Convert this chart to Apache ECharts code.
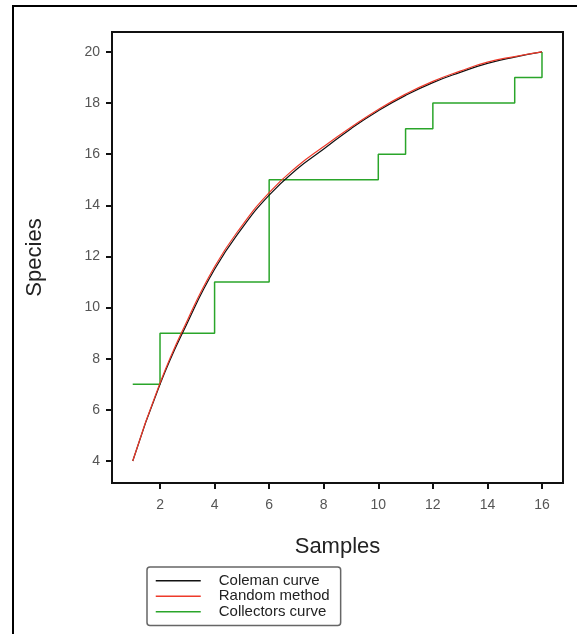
<!DOCTYPE html>
<html>
<head>
<meta charset="utf-8">
<script src="https://cdn.jsdelivr.net/npm/echarts@6/dist/echarts.min.js"></script>
<style>html,body{margin:0;padding:0;background:#fff}#c{width:577px;height:634px}</style>
</head>
<body>
<div id="c"></div>
<script>
var samples = [1,2,3,4,5,6,7,8,9,10,11,12,13,14,15,16];
var coleman = [4,7,9.4,11.5,13.1,14.4,15.4,16.2,17.0,17.7,18.3,18.8,19.2,19.55,19.8,20];
var randomMethod = [4,7.05,9.5,11.6,13.2,14.5,15.5,16.3,17.05,17.75,18.35,18.85,19.25,19.6,19.82,20];
var collectors = [7,9,9,11,11,15,15,15,15,16,17,18,18,18,19,20];
var xTicks = [2,4,6,8,10,12,14,16];
var yTicks = [4,6,8,10,12,14,16,18,20];
var seriesNames = ['Coleman curve','Random method','Collectors curve'];

function pairs(ys){ return samples.map(function(x,i){ return [x, ys[i]]; }); }

var chart = echarts.init(document.getElementById('c'), null, {renderer:'canvas'});
chart.setOption({
  backgroundColor:'#fff',
  animation:false,
  graphic:[{type:'rect', shape:{x:13,y:6,width:620,height:700}, style:{fill:'none', stroke:'#000', lineWidth:2}, silent:true}],
  grid:{left:112, top:32, right:14, bottom:151, show:true, borderColor:'#111', borderWidth:2, backgroundColor:'#fff'},
  xAxis:{
    type:'value', min:0.24, max:16.77,
    name:'Samples', nameLocation:'middle', nameGap:53,
    nameTextStyle:{fontFamily:'Liberation Sans', fontSize:22, color:'#222'},
    axisLine:{show:true, onZero:false, lineStyle:{color:'#111', width:2}},
    axisTick:{show:true, inside:false, length:6, lineStyle:{color:'#111', width:2}, customValues:xTicks},
    axisLabel:{customValues:xTicks, fontFamily:'Liberation Sans', fontSize:14, color:'#555', margin:15},
    splitLine:{show:false}
  },
  yAxis:{
    type:'value', min:3.14, max:20.78,
    name:'Species', nameLocation:'middle', nameGap:66,
    nameTextStyle:{fontFamily:'Liberation Sans', fontSize:22, color:'#222'},
    axisLine:{show:true, onZero:false, lineStyle:{color:'#111', width:2}},
    axisTick:{show:true, inside:false, length:6, lineStyle:{color:'#111', width:2}, customValues:yTicks},
    axisLabel:{customValues:yTicks, fontFamily:'Liberation Sans', fontSize:14, color:'#555', margin:12},
    splitLine:{show:false}
  },
  legend:{
    orient:'vertical', left:147, top:567,
    data:seriesNames,
    backgroundColor:'#fff', borderColor:'#666', borderWidth:1.5, borderRadius:3,
    padding:[6,11,6,8], itemGap:0, itemWidth:45, itemHeight:15,
    itemStyle:{opacity:0},
    lineStyle:{width:1.5},
    textStyle:{fontFamily:'Liberation Sans', fontSize:15, lineHeight:15.5, color:'#222', padding:[0,0,0,13]}
  },
  series:[
    {name:seriesNames[0], type:'line', data:pairs(coleman), symbol:'none', smooth:0.5,
     lineStyle:{color:'#111', width:1.2}, itemStyle:{color:'#111'}, z:2},
    {name:seriesNames[1], type:'line', data:pairs(randomMethod), symbol:'none', smooth:0.5,
     lineStyle:{color:'#ee3a2a', width:1.2}, itemStyle:{color:'#ee3a2a'}, z:3},
    {name:seriesNames[2], type:'line', data:pairs(collectors), symbol:'none', step:'end',
     lineStyle:{color:'#2aa52a', width:1.5}, itemStyle:{color:'#2aa52a'}, z:1}
  ]
});
</script>
</body>
</html>
